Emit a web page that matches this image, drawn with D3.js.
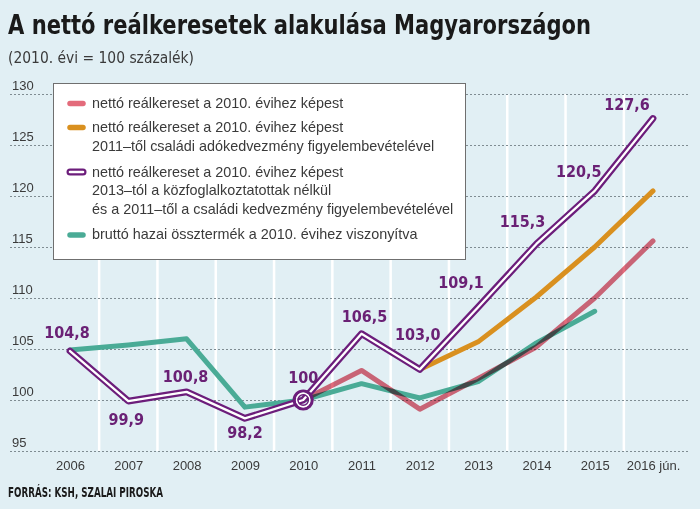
<!DOCTYPE html>
<html><head><meta charset="utf-8">
<script src="https://cdn.jsdelivr.net/npm/d3@7"></script>
<style>
html,body{margin:0;padding:0;background:#e1eff4;}
svg{display:block;}
</style></head><body>
<svg id="chart" width="700" height="509"></svg>
<script>
// ---------- data ----------
const years = ["2006","2007","2008","2009","2010","2011","2012","2013","2014","2015","2016"];
const yearLabels = ["2006","2007","2008","2009","2010","2011","2012","2013","2014","2015","2016 jún."];
const yTicks = [95,100,105,110,115,120,125,130];
const seriesNames = [
  ["nettó reálkereset a 2010. évihez képest"],
  ["nettó reálkereset a 2010. évihez képest","2011–től családi adókedvezmény figyelembevételével"],
  ["nettó reálkereset a 2010. évihez képest","2013–tól a közfoglalkoztatottak nélkül","és a 2011–től a családi kedvezmény figyelembevételével"],
  ["bruttó hazai össztermék a 2010. évihez viszonyítva"]
];
const nettoReal     = [null,null,null,null,100,102.9,99.1,102.1,105.2,110.0,115.6];
const nettoCsaladi  = [null,null,null,null,null,null,103.0,105.7,110.1,115.0,120.5];
const nettoKozfog   = [104.8,99.9,100.8,98.2,100,106.5,103.0,109.1,115.3,120.5,127.6];
const bruttoGDP     = [104.9,105.4,106.0,99.3,100,101.6,100.2,101.8,105.6,108.7,null];
const valueLabels   = ["104,8","99,9","100,8","98,2","100","106,5","103,0","109,1","115,3","120,5","127,6"];
const markedYear = "2010";

// ---------- layout / style ----------
const colors = {red:"#e36b7b", orange:"#d9901f", purple:"#6c1d7b", green:"#4aab96", label:"#6a2175", text:"#3a3a3a"};
const labelOffsets = [[-3,-13],[-2,24],[-1,-10],[0,20],[0,-17],[3,-12],[-2,-29],[-17,-19],[-14,-17],[-16,-14],[-26,-8]];
const condensed = "'Liberation Sans Narrow','DejaVu Sans Condensed','Roboto Condensed','Arial Narrow',sans-serif";
const regular = "'Liberation Sans',Arial,sans-serif";

const svg = d3.select("#chart");
svg.append("rect").attr("width",700).attr("height",509).attr("fill","#e1eff4");

const x = d3.scalePoint().domain(years).range([70,653]);
const y = d3.scaleLinear().domain([95,130]).range([451,94]);

// vertical white grid between years
const mids = years.slice(0,-1).map((d,i)=> (x(d)+x(years[i+1]))/2);
svg.append("g").selectAll("line").data(mids).join("line")
  .attr("x1",d=>d).attr("x2",d=>d).attr("y1",y(130)).attr("y2",y(95))
  .attr("stroke","#ffffff").attr("stroke-width",2.5);

// horizontal dotted grid + y labels via axis
const yAxis = svg.append("g").attr("transform","translate(10,0)")
  .call(d3.axisRight(y).tickValues(yTicks).tickSize(680).tickFormat(d3.format("d")));
yAxis.select(".domain").remove();
yAxis.selectAll(".tick line").attr("stroke","#7f8c92").attr("stroke-width",1.1).attr("stroke-dasharray","2,2");
yAxis.selectAll(".tick text").attr("x",2).attr("dy",-5).attr("text-anchor","start")
  .attr("font-family",regular).attr("font-size",13).attr("fill",colors.text);

// x axis labels
const xAxis = svg.append("g").attr("transform","translate(0,458)")
  .call(d3.axisBottom(x).tickSize(0).tickFormat((d,i)=>yearLabels[i]));
xAxis.select(".domain").remove();
xAxis.selectAll(".tick text").attr("font-family",regular).attr("font-size",13).attr("fill",colors.text).attr("dy","0.71em");

// lines
const line = d3.line().defined(d=>d.v!=null).x(d=>x(d.year)).y(d=>y(d.v));
const toPts = arr => arr.map((v,i)=>({year:years[i], v}));

const lg = svg.append("g").attr("fill","none").attr("stroke-linecap","round").attr("stroke-linejoin","round");
lg.append("path").attr("d",line(toPts(bruttoGDP))).attr("stroke",colors.green).attr("stroke-width",5);
lg.append("path").attr("d",line(toPts(nettoReal))).attr("stroke",colors.red).attr("stroke-width",5).style("mix-blend-mode","multiply");
lg.append("path").attr("d",line(toPts(nettoCsaladi))).attr("stroke",colors.orange).attr("stroke-width",5);
lg.append("path").attr("d",line(toPts(nettoKozfog))).attr("stroke",colors.purple).attr("stroke-width",6.8);
lg.append("path").attr("d",line(toPts(nettoKozfog))).attr("stroke","#ffffff").attr("stroke-width",2.3);

// marker at 2010
const mi = years.indexOf(markedYear);
const mx = x(markedYear), my = y(nettoKozfog[mi]);
lg.append("circle").attr("cx",mx).attr("cy",my).attr("r",9).attr("stroke",colors.purple).attr("stroke-width",3.2);
lg.append("circle").attr("cx",mx).attr("cy",my).attr("r",6.6).attr("stroke","#ffffff").attr("stroke-width",1.6);
lg.append("circle").attr("cx",mx).attr("cy",my).attr("r",5.2).attr("stroke",colors.purple).attr("stroke-width",1.4);

// value labels
svg.append("g").selectAll("text").data(valueLabels).join("text")
  .attr("x",(d,i)=>x(years[i])+labelOffsets[i][0])
  .attr("y",(d,i)=>y(nettoKozfog[i])+labelOffsets[i][1])
  .attr("text-anchor","middle").attr("font-family",condensed).attr("font-weight","bold")
  .attr("font-size",16).attr("fill",colors.label).text(d=>d);

// legend
const leg = svg.append("g");
leg.append("rect").attr("x",53.5).attr("y",83.5).attr("width",412).attr("height",176)
  .attr("fill","#ffffff").attr("stroke","#6f6f6f").attr("stroke-width",1);
const legColors = [colors.red, colors.orange, colors.purple, colors.green];
const swatchY = [103.5,127.5,172,235];
const firstBase = [107.5,132,176.5,239];
seriesNames.forEach((lines,i)=>{
  if(i===2){
    leg.append("line").attr("x1",70).attr("x2",83).attr("y1",swatchY[i]).attr("y2",swatchY[i])
      .attr("stroke",colors.purple).attr("stroke-width",7).attr("stroke-linecap","round");
    leg.append("line").attr("x1",70).attr("x2",83).attr("y1",swatchY[i]).attr("y2",swatchY[i])
      .attr("stroke","#fff").attr("stroke-width",2.6).attr("stroke-linecap","round");
  } else {
    leg.append("line").attr("x1",70).attr("x2",83).attr("y1",swatchY[i]).attr("y2",swatchY[i])
      .attr("stroke",legColors[i]).attr("stroke-width",5.5).attr("stroke-linecap","round");
  }
  lines.forEach((t,j)=>{
    leg.append("text").attr("x",92).attr("y",firstBase[i]+j*18.5)
      .attr("font-family",regular).attr("font-size",14.4).attr("fill",colors.text).text(t);
  });
});

// title, subtitle, source
svg.append("text").attr("x",8).attr("y",34).attr("font-family",condensed).attr("font-weight","bold")
  .attr("font-size",27).attr("fill","#1a1a1a").attr("textLength",583).attr("lengthAdjust","spacingAndGlyphs")
  .text("A nettó reálkeresetek alakulása Magyarországon");
svg.append("text").attr("x",8).attr("y",63).attr("font-family",condensed)
  .attr("font-size",16).attr("fill",colors.text).attr("textLength",186).attr("lengthAdjust","spacingAndGlyphs")
  .text("(2010. évi = 100 százalék)");
svg.append("text").attr("x",8).attr("y",497).attr("font-family",condensed).attr("font-weight","bold")
  .attr("font-size",13.5).attr("fill","#1a1a1a").attr("textLength",155).attr("lengthAdjust","spacingAndGlyphs")
  .text("FORRÁS: KSH, SZALAI PIROSKA");
</script>
</body></html>
